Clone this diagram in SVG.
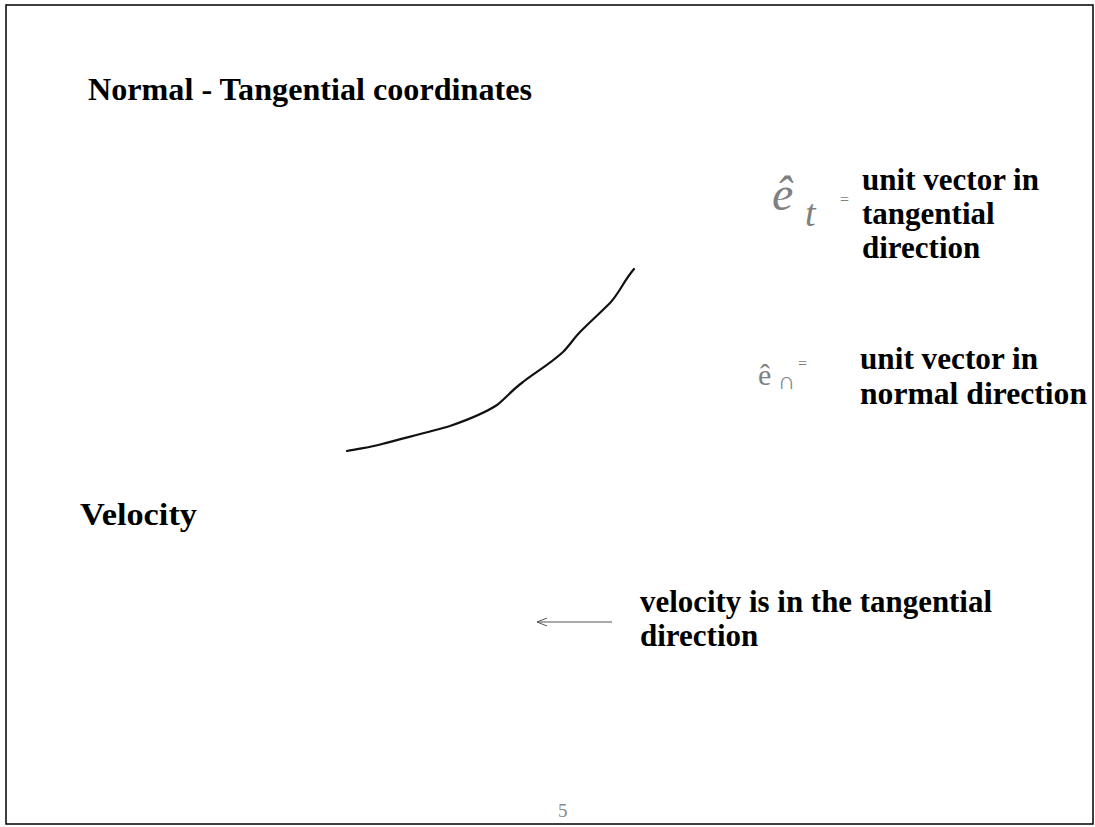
<svg xmlns="http://www.w3.org/2000/svg" width="1095" height="827" viewBox="0 0 1095 827">
<defs>
<style>
.t{font-family:"Liberation Serif","Times New Roman",serif;font-weight:bold;font-size:31px;fill:#000}
.ink{font-family:"Liberation Serif",serif;font-weight:normal;fill:#808080}
.pg{font-family:"Liberation Serif",serif;font-size:19px;fill:#8a8a8a}
</style>
<marker id="open" markerWidth="12" markerHeight="10" refX="11" refY="5" orient="auto" markerUnits="userSpaceOnUse">
<path d="M1,1 L11,5 L1,9" fill="none" stroke="#555" stroke-width="1"/>
</marker>
</defs>
<rect width="1095" height="827" fill="#fff"/>
<rect x="6" y="5" width="1087" height="819" fill="none" stroke="#000" stroke-width="1.5"/>
<g id="title"><text class="t" x="88" y="100" textLength="444" lengthAdjust="spacingAndGlyphs">Normal - Tangential coordinates</text></g>
<g id="curve"><path d="M347,451 C362,448 372,447 382,444 C400,439 430,432 450,426 C470,419 485,413 497,405 C505,399 512,390 523,382 C533,374 550,364 563,352 C570,345 574,338 580,332 C590,322 600,313 610,303 C620,292 623,282 634,269" fill="none" stroke="#111" stroke-width="2.2" stroke-linejoin="round" stroke-linecap="round"/></g>
<g id="et">
<text class="ink" x="772" y="210" font-size="48" font-style="italic">ê</text>
<text class="ink" x="805" y="226" font-size="38" font-style="italic">t</text>
<text class="ink" x="840" y="205" font-size="16" font-family="DejaVu Sans">=</text>
</g>
<g id="et-label">
<text class="t" x="862" y="190" textLength="177" lengthAdjust="spacingAndGlyphs">unit vector in</text>
<text class="t" x="862" y="224">tangential</text>
<text class="t" x="862" y="258">direction</text>
</g>
<g id="en">
<text class="ink" x="758" y="385" font-size="30">ê</text>
<text class="ink" x="778" y="389" font-size="24" font-family="DejaVu Sans">∩</text>
<text class="ink" x="798" y="369" font-size="16" font-family="DejaVu Sans">=</text>
</g>
<g id="en-label">
<text class="t" x="860" y="369" textLength="178" lengthAdjust="spacingAndGlyphs">unit vector in</text>
<text class="t" x="860" y="404" textLength="227" lengthAdjust="spacingAndGlyphs">normal direction</text>
</g>
<g id="velocity"><text class="t" x="80" y="525" textLength="117" lengthAdjust="spacingAndGlyphs">Velocity</text></g>
<g id="connectors"><line x1="612" y1="622" x2="537" y2="622" stroke="#555" stroke-width="1.2" marker-end="url(#open)"/></g>
<g id="vel-label">
<text class="t" x="640" y="612" textLength="352" lengthAdjust="spacingAndGlyphs">velocity is in the tangential</text>
<text class="t" x="640" y="646">direction</text>
</g>
<g id="page"><text class="pg" x="558" y="817">5</text></g>
</svg>
